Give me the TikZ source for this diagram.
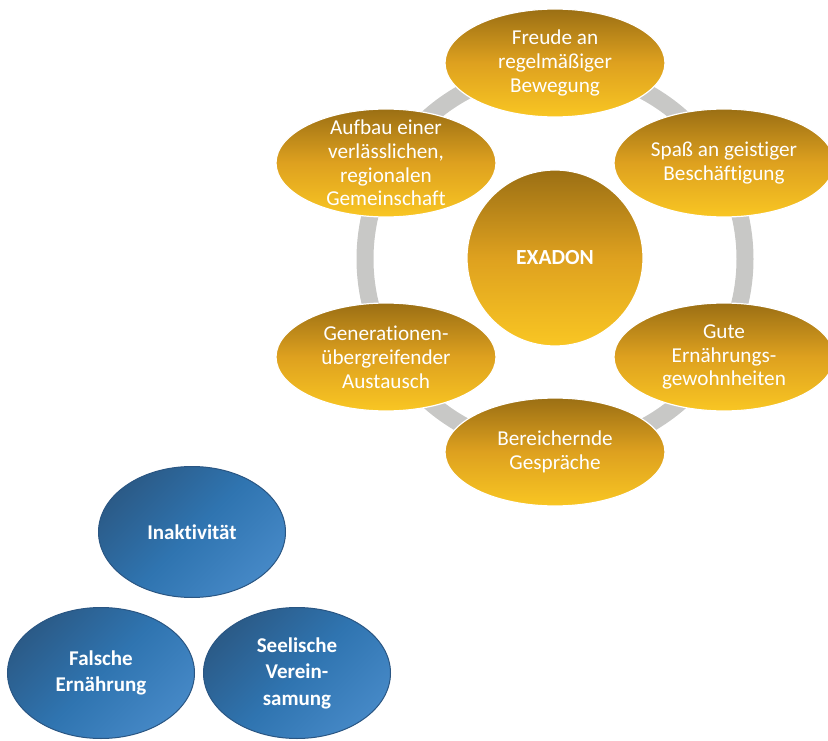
\documentclass[tikz,border=0pt]{standalone}
\usepackage{fontspec}
\setmainfont{Carlito}[Ligatures=NoCommon]
\usetikzlibrary{shapes.geometric}

\definecolor{ringgray}{HTML}{C8C8C6}
\definecolor{goldtop}{HTML}{9B6F14}
\definecolor{goldmid}{HTML}{DEA11F}
\definecolor{goldbot}{HTML}{F9C623}
\definecolor{bluedark}{HTML}{2B5B88}
\definecolor{bluemid}{HTML}{2F74B0}
\definecolor{bluelight}{HTML}{4588C6}
\definecolor{blueedge}{HTML}{2A5683}

\begin{document}
\begin{tikzpicture}[x=1pt,y=-1pt,
  goldshade/.style={top color=goldtop, bottom color=goldbot, middle color=goldmid},
  goldell/.style={ellipse, minimum width=220pt, minimum height=108pt, inner sep=0pt,
    draw=white, line width=1.2pt, goldshade},
  goldtxt/.style={text=white, align=center, inner sep=0pt,
    font=\fontsize{21.2}{23.8}\selectfont},
  hubstyle/.style={circle, minimum size=176pt, inner sep=0pt, draw=white,
    line width=1.2pt, goldshade, text=white, font=\bfseries\fontsize{21.5}{26}\selectfont},
  blueell/.style={ellipse, minimum width=187pt, minimum height=131pt, inner sep=0pt,
    draw=blueedge, line width=1pt, top color=bluedark, bottom color=bluelight,
    middle color=bluemid, shading angle=45, text=white, align=center,
    font=\bfseries\fontsize{21}{26.5}\selectfont},
  ringline/.style={draw=ringgray, line width=17pt}
]
\useasboundingbox (0,0) rectangle (828,741);

% central hub and the ring behind the six satellites
\coordinate (ringc) at (555,259);
\draw[ringline] (ringc) circle[radius=190];

\node[hubstyle] (exadon) at (555,258) {EXADON};

\node[goldell, label={[goldtxt]center:{Freude an\\regelmäßiger\\Bewegung}}]
  (freude) at (555,63) {};
\node[goldell, label={[goldtxt]center:{Spaß an geistiger\\Beschäftigung}}]
  (spass) at (724,163) {};
\node[goldell, label={[goldtxt]center:{Gute\\Ernährungs-\\gewohnheiten}}]
  (gute) at (724,357) {};
\node[goldell, label={[goldtxt]center:{Bereichernde\\Gespräche}}]
  (gespraeche) at (555,452) {};
\node[goldell, label={[goldtxt]center:{Generationen-\\übergreifender\\Austausch}}]
  (austausch) at (386,357) {};
\node[goldell, label={[goldtxt]center:{Aufbau einer\\verlässlichen,\\regionalen\\Gemeinschaft}}]
  (aufbau) at (386,163) {};

% the three blue problem areas
\node[blueell] (inaktiv) at (192,532) {Inaktivität};
\node[blueell] (falsch) at (101,673) {Falsche\\Ernährung};
\node[blueell] (seele) at (297,673) {Seelische\\Verein-\\samung};
\end{tikzpicture}
\end{document}
